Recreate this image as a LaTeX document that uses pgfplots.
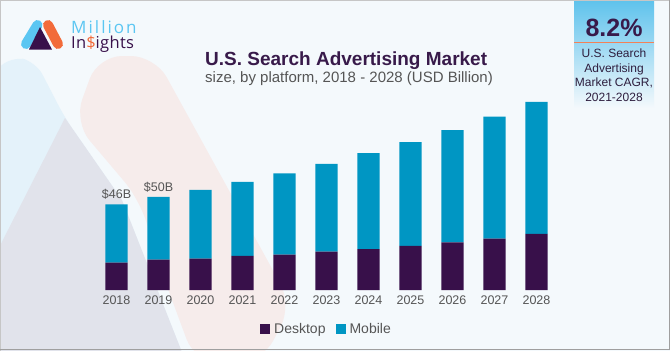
\documentclass[border=0pt]{standalone}
\usepackage{pgfplots}
\pgfplotsset{compat=1.18}
\usepackage{fontspec}
\setmainfont{Liberation Sans}
\newfontfamily\logofont{Open Sans}
\definecolor{bg}{HTML}{F4F9FC}
\definecolor{desk}{HTML}{38104A}
\definecolor{mob}{HTML}{0096C3}
\definecolor{ttl}{HTML}{381A4A}
\definecolor{txt}{HTML}{555555}
\definecolor{lblue}{HTML}{5BC6F2}
\definecolor{lorange}{HTML}{F26B3A}
\definecolor{shblue}{HTML}{E4F2FA}
\definecolor{shgrey}{HTML}{E1E3EB}
\definecolor{shpink}{HTML}{F6ECEB}
\definecolor{boxtop}{HTML}{5EC2EC}
\definecolor{boxtxt}{HTML}{2E1E3E}

\pgfplotstableread{
x desktop mobile
0 14.7 31.3
1 16.3 33.7
2 16.8 37.0
3 18.3 39.8
4 19.0 43.6
5 20.6 47.2
6 21.9 51.6
7 23.7 55.7
8 25.6 60.3
9 27.6 65.5
10 30.1 70.9
}\datatable

\begin{document}
\begin{tikzpicture}
\fill[bg] (0pt,0pt) rectangle (670pt,-351pt);
\begin{scope}[x=1pt,y=1pt]
\clip (0,0) rectangle (670,-351);
% faded logo shapes
\fill[shblue, rounded corners=14] (-60,-120) -- (12,-56) -- (36,-62) -- (65,-118) -- (122,-200) -- (185,-360) -- (-60,-360) -- cycle;
\fill[shgrey] (65,-118) -- (122,-200) -- (185,-360) -- (-20,-360) -- (-20,-285) -- cycle;
\fill[shpink, rounded corners=24] (74,-122) -- (98,-56) -- (155,-56) -- (292,-305) -- (262,-362) -- (195,-362) -- (158,-262) -- (140,-200) -- cycle;
\end{scope}

\begin{scope}[x=1pt,y=1pt]
% logo
\draw[lblue, line width=10, line cap=round] (37.5,-25) -- (26,-44);
\draw[lorange, line width=10, line cap=round] (48,-25) -- (58,-44);
\fill[desk] (40,-27) -- (29,-49.5) -- (52,-49.5) -- cycle;
\node[anchor=base west, inner sep=0, text=lblue, font=\logofont\fontsize{17}{18}\selectfont\addfontfeatures{LetterSpace=12}] at (71,-33) {Million};
\node[anchor=base west, inner sep=0, text=desk, font=\logofont\fontsize{16.5}{18}\selectfont\addfontfeatures{LetterSpace=2}] at (71,-48.5) {In\textcolor{lorange}{\$}ights};

% titles
\node[anchor=base west, inner sep=0, text=ttl, font=\bfseries\fontsize{19}{22}\selectfont] at (205,-65) {U.S. Search Advertising Market};
\node[anchor=base west, inner sep=0, text=txt, font=\fontsize{15}{18}\selectfont] at (205,-82) {size, by platform, 2018 - 2028 (USD Billion)};

% CAGR box
\shade[top color=boxtop, bottom color=bg] (574,0) rectangle (654,-108);
\fill[lorange!85] (574,-41.8) rectangle (654,-43.3);
\node[anchor=base, inner sep=0, text=ttl, font=\bfseries\fontsize{25}{28}\selectfont] at (614,-36) {8.2\%};
\node[anchor=base, inner sep=0, text=boxtxt, font=\fontsize{12}{14}\selectfont] at (614,-57.5) {U.S. Search};
\node[anchor=base, inner sep=0, text=boxtxt, font=\fontsize{12}{14}\selectfont] at (614,-72.2) {Advertising};
\node[anchor=base, inner sep=0, text=boxtxt, font=\fontsize{12}{14}\selectfont] at (614,-86.9) {Market CAGR,};
\node[anchor=base, inner sep=0, text=boxtxt, font=\fontsize{12}{14}\selectfont] at (614,-101.6) {2021-2028};
\end{scope}

\begin{axis}[
  at={(91.3pt,-290pt)}, anchor=south west,
  scale only axis, width=470.4pt, height=204.8pt,
  xmin=-0.6, xmax=10.6, ymin=0, ymax=110,
  ybar stacked, bar width=0.524,
  axis line style={draw=none}, major tick length=0,
  ytick=\empty,
  xtick={0,...,10},
  xticklabels={2018,2019,2020,2021,2022,2023,2024,2025,2026,2027,2028},
  xticklabel style={anchor=base, yshift=-14pt, text=txt, font=\fontsize{12.5}{14}\selectfont},
  legend style={at={(0.5,-0.19)}, anchor=center, draw=none, fill=none,
    legend columns=2, font=\fontsize{14}{16}\selectfont, text=txt,
    /tikz/every odd column/.append style={column sep=2pt},
    /tikz/every even column/.append style={column sep=8pt}},
  legend image code/.code={\fill[#1] (0pt,-5pt) rectangle (10pt,5pt);},
  clip=false,
]
\addplot[fill=desk, draw=none] table[x=x, y=desktop] {\datatable};
\addplot[fill=mob, draw=none] table[x=x, y=mobile] {\datatable};
\legend{Desktop,Mobile}
\node[anchor=base, inner sep=0, text=txt, font=\fontsize{12.5}{14}\selectfont, yshift=5.5pt] at (axis cs:0,46) {\$46B};
\node[anchor=base, inner sep=0, text=txt, font=\fontsize{12.5}{14}\selectfont, yshift=5.5pt] at (axis cs:1,50) {\$50B};
\end{axis}

\draw[gray!45, line width=1pt] (0.5pt,-350.5pt) -- (0.5pt,-0.5pt) -- (669.5pt,-0.5pt);
\draw[gray!75, line width=1.5pt] (669.25pt,0pt) -- (669.25pt,-349.25pt) -- (0pt,-349.25pt);
\pgfresetboundingbox
\useasboundingbox (0pt,0pt) rectangle (670pt,-351pt);
\end{tikzpicture}
\end{document}
